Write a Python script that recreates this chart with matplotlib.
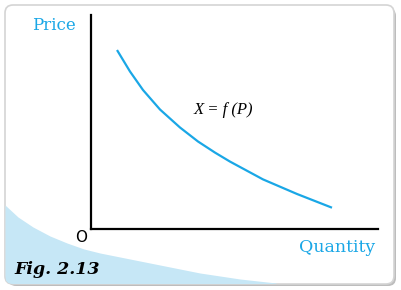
import numpy as np
import matplotlib.pyplot as plt
from matplotlib.patches import FancyBboxPatch

# curve (axis units 0-10)
qty = [0.906, 1.359, 1.812, 2.404, 3.101, 3.728, 4.321, 4.843, 5.993, 7.178, 8.397]
price = [8.364, 7.360, 6.495, 5.584, 4.743, 4.089, 3.570, 3.150, 2.318, 1.636, 0.995]

# light blue swoosh in the card's lower left (pixels)
swoosh_x = [5, 18, 33, 50, 67, 84, 100, 130, 160, 200, 240, 276]
swoosh_y = [205, 217, 227, 236, 243, 249, 253, 259, 265, 273, 279, 283]

blue = '#1aa7e6'

fig = plt.figure(figsize=(4.02, 2.90), dpi=100)

# background layer in pixel coordinates
bg = fig.add_axes([0, 0, 1, 1])
bg.set_xlim(0, 402)
bg.set_ylim(290, 0)
bg.axis('off')

shadow = FancyBboxPatch((8, 8), 388, 278, boxstyle='round,pad=0,rounding_size=8',
                        fc='#bdbdbd', ec='none')
bg.add_patch(shadow)
card = FancyBboxPatch((5, 5), 389, 279, boxstyle='round,pad=0,rounding_size=8',
                      fc='white', ec='#d4d4d4', lw=1.2)
bg.add_patch(card)
sw = bg.fill_between(swoosh_x, swoosh_y, 290, color='#c6e7f6', lw=0)
sw.set_clip_path(card)

# chart axes
ax = fig.add_axes([91/402, (290-229)/290, 287/402, 214/290])
ax.patch.set_alpha(0)
ax.set_xlim(0, 10)
ax.set_ylim(0, 10)
for s in ['top', 'right']:
    ax.spines[s].set_visible(False)
ax.spines['left'].set_linewidth(1.6)
ax.spines['bottom'].set_linewidth(1.6)
ax.set_xticks([])
ax.set_yticks([])

ax.plot(qty, price, color=blue, lw=1.6, solid_capstyle='butt',
        solid_joinstyle='round')

bg.text(54, 26, 'Price', color=blue, fontsize=12, family='DejaVu Serif',
        ha='center', va='center')
bg.text(337, 248, 'Quantity', color=blue, fontsize=12.5, family='DejaVu Serif',
        ha='center', va='center')
bg.text(81, 238, 'O', color='black', fontsize=11, family='DejaVu Sans',
        ha='center', va='center')
bg.text(223, 110, 'X = f (P)', color='black', fontsize=12, family='Liberation Serif',
        style='italic', ha='center', va='center')
bg.text(14, 270, 'Fig. 2.13', color='black', fontsize=12.5, family='DejaVu Serif',
        style='italic', weight='bold', ha='left', va='center')

fig.savefig('out.png', dpi=100)
